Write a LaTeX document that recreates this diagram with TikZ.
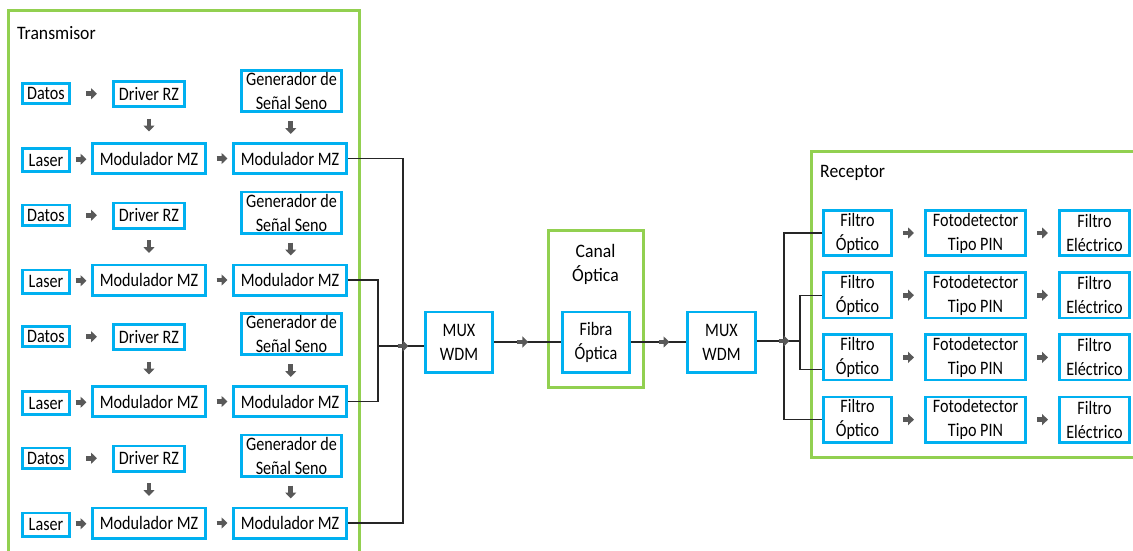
\documentclass[tikz,border=0pt]{standalone}
\usepackage{fontspec}
\setmainfont{Carlito}[FakeStretch=0.85]
\newfontfamily\lblfont{Carlito}[FakeStretch=0.93]
\usetikzlibrary{arrows.meta,calc}
\definecolor{boxblue}{HTML}{00B0F0}
\definecolor{grpgreen}{HTML}{92D050}
\definecolor{arrgray}{HTML}{595959}
\tikzset{
  blk/.style={draw=boxblue, line width=2.6pt, inner sep=0pt, align=center,
    font=\fontsize{19}{24}\selectfont, fill=white},
  grp/.style={draw=grpgreen, line width=3pt},
  wire/.style={draw=black!85, line width=1.3pt},
  barrow/.style={draw=arrgray, line width=4.6pt, -{Triangle[length=6pt,width=11pt]}},
  lbl/.style={font=\lblfont\fontsize{19}{24}\selectfont, inner sep=0pt, align=center},
}
\begin{document}
\begin{tikzpicture}[x=1pt, y=-1pt]
\useasboundingbox (0,0) rectangle (1133,550);

% group frames
\draw[grp] (8,10) rectangle (359,565);
\draw[grp] (548,230) rectangle (643,387);
\draw[grp] (811,151) rectangle (1145,457);

\node[lbl, anchor=west] (ttx) at (17,33) {Transmisor};
\node[lbl, anchor=west] (trx) at (820,173) {Receptor};
\node[lbl] (tch) at (595.5,264) {Canal\\Óptica};

% transmitter branches
\foreach \k in {0,...,3}{
  \pgfmathsetmacro\ya{93.5+121.5*\k}
  \pgfmathsetmacro\yb{94+121.5*\k}
  \pgfmathsetmacro\yc{91+121.5*\k}
  \pgfmathsetmacro\yd{160+121.5*\k}
  \pgfmathsetmacro\ye{158.5+121.5*\k}
  \node[blk, minimum width=47.4, minimum height=20.4] (d\k) at (46,\ya) {Datos};
  \node[blk, minimum width=71.4, minimum height=25.4] (r\k) at (149,\yb) {Driver RZ};
  \node[blk, minimum width=100.4, minimum height=41.4] (g\k) at (291.5,\yc) {Generador de\\Señal Seno};
  \node[blk, minimum width=47.4, minimum height=23.4] (l\k) at (46,\yd) {Laser};
  \node[blk, minimum width=113.4, minimum height=30.4] (m\k) at (149,\ye) {Modulador MZ};
  \node[blk, minimum width=113.4, minimum height=30.4] (n\k) at (290,\ye) {Modulador MZ};
  \draw[barrow] ($(d\k.east)!0.5!(r\k.west)$) +(-5.5,0) -- +(5.5,0);
  \draw[barrow] ($(l\k.east)!0.5!(m\k.west)$) +(-5.5,0) -- +(5.5,0);
  \draw[barrow] ($(m\k.east)!0.6!(n\k.west)$) +(-5.5,0) -- +(5.5,0);
  \draw[barrow] ($(r\k.south)!0.5!(m\k.north)$) +(0,-6.5) -- +(0,6.5);
  \draw[barrow] ($(g\k.south)!0.5!(n\k.north)$) +(0,-6.5) -- +(0,6.5);
}

% multiplexers and fibre
\node[blk, minimum width=67.4, minimum height=60.4] (mux1) at (459,342) {MUX\\WDM};
\node[blk, minimum width=67.4, minimum height=60.4] (fib) at (596,342) {Fibra\\Óptica};
\node[blk, minimum width=68.4, minimum height=60.4] (mux2) at (721.5,342) {MUX\\WDM};

% receiver branches
\foreach \k in {0,...,3}{
  \pgfmathsetmacro\yr{233+62.2*\k}
  \node[blk, minimum width=68.4, minimum height=45.4] (f\k) at (857.5,\yr) {Filtro\\Óptico};
  \node[blk, minimum width=100.4, minimum height=45.4] (p\k) at (975.5,\yr) {Fotodetector\\Tipo PIN};
  \node[blk, minimum width=70.4, minimum height=45.4] (e\k) at (1094.5,\yr) {Filtro\\Eléctrico};
  \draw[barrow] ($(f\k.east)!0.5!(p\k.west)$) +(-5.5,0) -- +(5.5,0);
  \draw[barrow] ($(p\k.east)!0.5!(e\k.west)$) +(-5.5,0) -- +(5.5,0);
}

% combining network
\coordinate (jo) at (403,346);
\coordinate (ji) at (378,346);
\draw[wire] (n0.east) -| (jo);
\draw[wire] (n3.east) -| (jo);
\draw[wire] (n1.east) -| (ji);
\draw[wire] (n2.east) -| (ji);
\draw[wire] (ji) -- (mux1.west |- ji);
\draw[barrow] (jo) +(-5.5,0) -- +(5.5,0);

\draw[wire] (mux1.east) -- (fib.west);
\draw[barrow] ($(mux1.east)!0.43!(fib.west)$) +(-5.5,0) -- +(5.5,0);
\draw[wire] (fib.east) -- (mux2.west);
\draw[barrow] ($(fib.east)!0.6!(mux2.west)$) +(-5.5,0) -- +(5.5,0);

% splitting network
\coordinate (ro) at (784,341);
\coordinate (ri) at (800,341);
\draw[wire] (mux2.east |- ri) -- (ri);
\draw[wire] (f0.west) -| (ro);
\draw[wire] (f3.west) -| (ro);
\draw[wire] (f1.west) -| (ri);
\draw[wire] ($(f2.west)+(0,12)$) -| (ri);
\draw[barrow] (ro) +(-5.5,0) -- +(5.5,0);
\end{tikzpicture}
\end{document}
